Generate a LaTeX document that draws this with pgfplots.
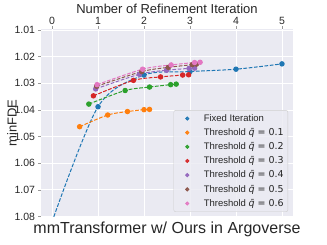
\documentclass[border=0pt]{standalone}
\usepackage{fontspec}
\setmainfont{Liberation Sans}
\newfontfamily\dejavu{DejaVu Sans}
\usepackage{pgfplots}
\pgfplotsset{compat=1.18}
\definecolor{bg}{HTML}{EAEAF2}
\definecolor{txt}{HTML}{262626}
\definecolor{c0}{HTML}{1F77B4}
\definecolor{c1}{HTML}{FF7F0E}
\definecolor{c2}{HTML}{2CA02C}
\definecolor{c3}{HTML}{D62728}
\definecolor{c4}{HTML}{9467BD}
\definecolor{c5}{HTML}{8C564B}
\definecolor{c6}{HTML}{E377C2}
\newcommand{\thr}[1]{Threshold {\dejavu\itshape\={q}\upshape\ = #1}}
\begin{document}
\begin{tikzpicture}
\useasboundingbox (-41pt,-28pt) rectangle (286pt,217pt);
\begin{axis}[
  width=252pt, height=188pt, scale only axis,
  xmin=-0.24, xmax=5.24, ymin=1.0096, ymax=1.0802,
  y dir=reverse,
  axis background/.style={fill=bg},
  axis line style={draw=none},
  grid=major, major grid style={white, line width=0.8pt},
  xtick={0,1,2,3,4,5},
  ytick={1.01,1.02,1.03,1.04,1.05,1.06,1.07,1.08},
  yticklabel style={/pgf/number format/.cd, fixed, fixed zerofill, precision=2},
  /pgf/number format/assume math mode=true,
  xtick pos=right, xticklabel pos=right,
  ytick pos=left,
  tick style={draw=gray!80, line width=0.6pt},
  major tick length=2.5pt, tick align=outside,
  ticklabel style={font=\fontsize{10.5}{12}\selectfont, text=txt},
  xticklabel style={yshift=-1.5pt},
  xlabel={Number of Refinement Iteration},
  ylabel={minFDE},
  label style={font=\fontsize{13}{15}\selectfont, text=txt},
  xlabel style={at={(axis description cs:0.5,1.08)}, anchor=base},
  ylabel style={at={(axis description cs:-0.115,0.5)}, anchor=center},
  legend cell align=left,
  legend style={at={(1,0)}, anchor=south east, xshift=-5pt, yshift=5pt,
    fill=bg, fill opacity=0.8, text opacity=1, draw=gray!40, rounded corners=2pt,
    font=\fontsize{9.5}{11}\selectfont, text=txt, row sep=1.6pt, inner sep=2pt},
  legend image code/.code={\path (-11pt,0pt) (14pt,0pt); \draw[#1, mark size=1.5pt] plot coordinates {(0pt,0pt)};},
  every axis plot/.append style={line width=1pt, dash pattern=on 3.7pt off 1.6pt, mark=*, mark size=2.2pt, mark options={solid}, smooth},
]
\addplot[c0] coordinates {(0,1.082) (1,1.0388) (2,1.0269) (3,1.0256) (4,1.0247) (5,1.0227)};
\addlegendentry{Fixed Iteration}
\addplot[c1] coordinates {(0.60,1.0463) (1.21,1.0419) (1.64,1.0406) (2.00,1.0399) (2.12,1.0398)};
\addlegendentry{\thr{0.1}}
\addplot[c2] coordinates {(0.80,1.0378) (1.59,1.0327) (2.12,1.0314) (2.58,1.0305) (2.70,1.0303)};
\addlegendentry{\thr{0.2}}
\addplot[c3] coordinates {(0.90,1.0347) (1.77,1.0289) (2.36,1.0276) (2.84,1.0269) (2.97,1.0268)};
\addlegendentry{\thr{0.3}}
\addplot[c4] coordinates {(0.95,1.0321) (1.90,1.0266) (2.49,1.0251) (2.98,1.0244) (3.10,1.0243)};
\addlegendentry{\thr{0.4}}
\addplot[c5] coordinates {(0.97,1.0311) (1.95,1.0256) (2.53,1.0240) (3.05,1.0230) (3.14,1.0228)};
\addlegendentry{\thr{0.5}}
\addplot[c6] coordinates {(0.98,1.0305) (1.97,1.0247) (2.59,1.0231) (3.10,1.0222) (3.22,1.0221)};
\addlegendentry{\thr{0.6}}
\end{axis}
\node[anchor=north, inner sep=0pt, font=\fontsize{16}{18}\selectfont, text=txt] at (126pt,-5pt) {mmTransformer w/ Ours in Argoverse};
\end{tikzpicture}
\end{document}
